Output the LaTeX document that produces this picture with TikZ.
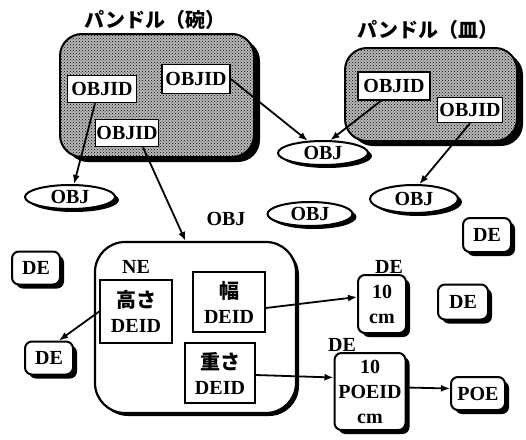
\documentclass[tikz,border=0pt]{standalone}
\usepackage{fontspec}
\setmainfont{Liberation Serif}
\newfontfamily\jp{Noto Sans CJK JP}
\usetikzlibrary{shapes.geometric,shadows,patterns,arrows.meta}

\begin{document}
\begin{tikzpicture}[x=1pt,y=-1pt,
  txt/.style={font=\fontsize{20}{25}\selectfont\bfseries},
  ttl/.style={font=\fontsize{20}{24}\selectfont\bfseries\jp},
  bundle/.style={
    drop shadow={shadow xshift=6pt, shadow yshift=-5pt, fill=black, opacity=1},
    preaction={fill=gray!55}, pattern=crosshatch dots,
    draw, line width=2pt, rounded corners=22pt},
  idbox/.style={txt, draw, line width=1.6pt, fill=white, inner sep=0pt, align=center},
  rbox/.style={txt, draw, line width=2pt, fill=white, rounded corners=7pt,
    inner sep=0pt, align=center,
    drop shadow={shadow xshift=4pt, shadow yshift=-4pt, fill=black, opacity=1}},
  obj/.style={txt, ellipse, draw, line width=2pt, fill=white, inner sep=0pt,
    drop shadow={shadow xshift=4pt, shadow yshift=-3pt, fill=black, opacity=1}},
  arr/.style={line width=1.8pt, -{Latex[length=9pt,width=7pt]}}
]
\useasboundingbox (0,0) rectangle (526,439);

% bundle titles
\node[ttl] (t1) at (155,20) {パンドル（碗）};
\node[ttl] (t2) at (428,30) {パンドル（皿）};

% bundles
\node[bundle, minimum width=194pt, minimum height=123pt] (b1) at (157,95.5) {};
\node[bundle, minimum width=172pt, minimum height=93pt] (b2) at (431,94.5) {};

% object ids
\node[idbox, minimum width=69pt, minimum height=27pt] (A) at (102,89) {OBJID};
\node[idbox, minimum width=68pt, minimum height=29pt] (B) at (196,79) {OBJID};
\node[idbox, minimum width=63pt, minimum height=27pt] (C) at (127,133) {OBJID};
\node[idbox, minimum width=72pt, minimum height=28pt] (D) at (394,86) {OBJID};
\node[idbox, minimum width=65pt, minimum height=25pt] (E) at (470,110) {OBJID};

% objects
\node[obj, minimum width=90pt, minimum height=24pt] (O1) at (70,197) {OBJ};
\node[obj, minimum width=90pt, minimum height=24pt] (O2) at (323,153) {OBJ};
\node[obj, minimum width=88pt, minimum height=28pt] (O3) at (414,199) {OBJ};
\node[obj, minimum width=85pt, minimum height=24pt] (O4) at (310,214) {OBJ};
\node[txt] (objl) at (226,219) {OBJ};

% the NE object
\node[draw, line width=2.2pt, fill=white, rounded corners=30pt,
  minimum width=201pt, minimum height=171pt,
  drop shadow={shadow xshift=3pt, shadow yshift=-3pt, fill=black, opacity=1}]
  (NE) at (195.5,327.5) {};
\node[txt] (nel) at (136,267) {NE};
\node[idbox, minimum width=72pt, minimum height=63pt] (takasa) at (136,311.5)
  {{\jp 高さ}\\DEID};
\node[idbox, minimum width=72pt, minimum height=60pt] (haba) at (229,302)
  {{\jp 幅}\\DEID};
\node[idbox, minimum width=70pt, minimum height=60pt] (omosa) at (220,373)
  {{\jp 重さ}\\DEID};

% data elements
\node[rbox, minimum width=48pt, minimum height=33pt] (DE1) at (36,268) {DE};
\node[rbox, minimum width=48pt, minimum height=33pt] (DE2) at (49,358) {DE};
\node[rbox, minimum width=48pt, minimum height=34pt] (DE3) at (487,235) {DE};
\node[rbox, minimum width=50pt, minimum height=35pt] (DE4) at (463,302) {DE};
\node[rbox, minimum width=48pt, minimum height=58pt] (tencm) at (382,304) {10\\cm};
\node[txt] (tencml) at (389,267) {DE};
\node[rbox, minimum width=71pt, minimum height=77pt] (poeid) at (370,391.5) {10\\POEID\\cm};
\node[txt] (poeidl) at (342,345) {DE};
\node[rbox, minimum width=54pt, minimum height=33pt] (POE) at (478,393.5) {POE};

% references
\draw[arr] ([xshift=-7pt]A.south) -- ([xshift=4pt]O1.north);
\draw[arr] (B.east) -- (O2);
\draw[arr] ([xshift=-13pt]D.south) -- (O2.60);
\draw[arr] (E.south) -- (O3.70);
\draw[arr] ([xshift=16pt]C.south) -- ([xshift=-10pt]NE.north);
\draw[arr] (takasa.west) -- ([xshift=10pt]DE2.north);
\draw[arr] ([yshift=-6pt]haba.east) -- ([yshift=7pt]tencm.west);
\draw[arr] ([yshift=-2pt]omosa.east) -- ([yshift=14pt]poeid.west);
\draw[arr] ([yshift=4pt]poeid.east) -- ([yshift=5pt]POE.west);
\end{tikzpicture}
\end{document}
